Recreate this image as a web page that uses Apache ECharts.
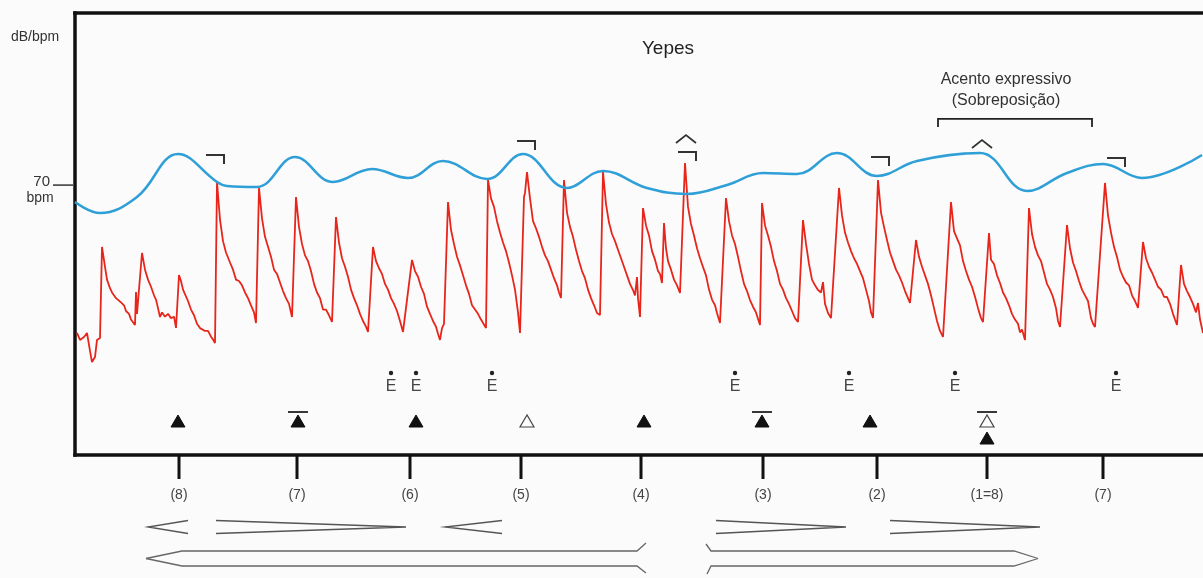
<!DOCTYPE html>
<html>
<head>
<meta charset="utf-8">
<script src="https://cdn.jsdelivr.net/npm/echarts@6/dist/echarts.min.js"></script>
<style>
  html, body { margin: 0; padding: 0; background: #fbfbfb; }
  #chart { width: 1203px; height: 578px; }
</style>
</head>
<body>
<div id="chart"></div>
<script>
// Time axis in tenths of a second, vertical axis shared by dB and bpm.
const X_MIN = 0, X_MAX = 112.8;
const Y_MIN = 51, Y_MAX = 82;

// Tempo curve (bpm)
const tempoBpm = [
  [0, 68.74], [2.5, 67.97], [6.2, 69.09], [10.3, 72.11], [14.2, 70.15], [15.2, 69.87],
  [18.2, 69.80], [22.0, 71.90], [25.8, 70.15], [29.7, 71.06], [33.3, 70.43], [36.8, 71.62],
  [41.2, 70.36], [44.8, 72.11], [49.2, 69.73], [52.8, 70.92], [57.2, 69.73], [61.2, 69.31],
  [65.2, 69.94], [68.8, 70.78], [72.2, 70.71], [76.2, 72.18], [80.2, 70.57], [84.2, 71.62],
  [90.5, 72.18], [95.2, 69.52], [99.2, 70.78], [102.8, 71.41], [106.7, 70.43], [112.7, 72.04]
];

// Intensity envelope (dB)
const intensityDb = [
  [0.2, 59.56], [0.5, 59.07], [0.9, 59.28], [1.2, 59.56], [1.5, 58.3], [1.7, 57.52], [2.0, 57.87],
  [2.2, 59.07], [2.5, 59.21],
  [2.7, 65.59], [3.0, 64.2], [3.2, 63.3], [3.5, 62.7], [3.7, 62.4], [3.9, 62.5], [4.1, 62.0], [4.3, 62.1],
  [4.6, 61.7], [4.9, 61.5], [5.1, 61.1], [5.4, 60.9], [5.6, 60.5], [5.8, 60.6], [6.0, 60.12],
  [6.1, 62.43], [6.2, 60.9], [6.3, 61.0], [6.4, 60.8],
  [6.7, 65.17], [7.0, 64.0], [7.3, 63.3], [7.6, 62.8], [7.9, 62.2], [8.1, 61.9], [8.3, 61.3], [8.5, 60.68],
  [8.7, 61.0], [9.0, 60.7], [9.3, 60.9], [9.6, 60.6], [9.9, 60.7], [10.1, 59.91],
  [10.4, 63.62], [10.6, 63.2], [10.8, 62.6], [11.0, 62.57], [11.3, 61.8], [11.6, 61.2], [11.9, 60.8],
  [12.2, 60.2], [12.5, 59.9], [12.7, 60.0], [13.0, 59.7], [13.3, 59.7], [13.6, 59.3], [13.8, 59.1], [14.0, 58.86],
  [14.2, 70.15], [14.5, 67.5], [14.8, 66.0], [15.1, 65.2], [15.5, 64.5], [15.8, 64.0], [16.1, 63.3],
  [16.4, 63.2], [16.7, 62.9], [17.0, 62.4], [17.3, 62.0], [17.6, 61.5], [17.9, 61.0], [18.1, 60.26],
  [18.4, 69.73], [18.7, 67.6], [19.0, 66.3], [19.3, 65.6], [19.6, 64.9], [19.9, 64.0], [20.2, 63.7],
  [20.5, 63.1], [20.8, 62.5], [21.1, 62.0], [21.4, 61.6], [21.7, 60.68],
  [22.1, 69.09], [22.4, 67.0], [22.7, 65.8], [23.0, 65.0], [23.3, 64.6], [23.6, 63.9], [23.9, 63.0],
  [24.2, 62.4], [24.5, 62.0], [24.8, 61.2], [25.1, 61.2], [25.4, 60.8], [25.7, 60.33],
  [26.1, 67.69], [26.4, 65.9], [26.7, 64.8], [27.0, 64.2], [27.3, 63.5], [27.6, 62.6], [27.9, 62.0],
  [28.2, 61.5], [28.5, 60.9], [28.8, 60.4], [29.1, 60.0], [29.3, 59.63],
  [29.8, 65.59], [30.1, 64.6], [30.4, 64.1], [30.7, 63.7], [31.0, 63.0], [31.3, 62.6], [31.6, 62.0],
  [31.9, 61.6], [32.2, 61.1], [32.5, 60.4], [32.8, 59.63],
  [33.7, 64.68], [34.0, 63.9], [34.3, 63.5], [34.6, 62.8], [34.9, 62.3], [35.2, 61.4], [35.5, 60.9],
  [35.8, 60.4], [36.1, 60.0], [36.3, 59.5], [36.5, 59.07], [36.7, 59.9], [36.9, 60.2],
  [37.3, 68.74], [37.6, 66.8], [37.9, 65.8], [38.2, 64.9], [38.5, 64.3], [38.8, 63.6], [39.1, 62.9],
  [39.4, 62.3], [39.7, 61.5], [40.0, 61.2], [40.3, 60.9], [40.6, 60.5], [40.8, 60.6], [41.1, 59.91],
  [41.3, 70.29], [41.6, 69.0], [41.9, 68.4], [42.2, 67.4], [42.5, 66.6], [42.8, 65.9], [43.1, 65.3],
  [43.4, 64.5], [43.7, 63.6], [44.0, 62.6], [44.3, 61.0], [44.5, 59.56],
  [44.9, 69.1], [45.0, 69.38], [45.2, 70.85], [45.5, 69.0], [45.8, 67.4], [46.1, 66.9], [46.4, 66.3],
  [46.7, 65.6], [47.0, 65.0], [47.3, 64.6], [47.6, 64.0], [47.9, 63.4], [48.2, 62.9], [48.4, 62.4], [48.6, 62.01],
  [48.9, 70.29], [49.2, 68.0], [49.5, 67.0], [49.8, 66.3], [50.1, 65.4], [50.4, 64.6], [50.7, 63.9],
  [51.0, 63.4], [51.3, 62.6], [51.6, 62.0], [51.9, 61.5], [52.2, 60.96], [52.5, 60.82],
  [52.8, 70.85], [53.1, 68.6], [53.4, 67.3], [53.7, 66.5], [54.0, 66.0], [54.3, 65.4], [54.6, 64.8],
  [54.9, 64.2], [55.2, 63.6], [55.5, 63.0], [55.8, 62.57], [56.0, 62.2], [56.2, 63.48], [56.3, 62.0], [56.5, 60.68],
  [56.8, 68.32], [57.1, 67.1], [57.4, 66.4], [57.7, 65.3], [58.0, 64.7], [58.3, 63.9], [58.5, 63.7], [58.7, 63.06],
  [58.9, 67.27], [59.1, 65.5], [59.3, 64.6], [59.6, 64.0], [59.9, 63.3], [60.2, 62.9], [60.5, 62.36],
  [61.0, 71.48], [61.3, 68.4], [61.6, 67.2], [61.9, 66.4], [62.2, 65.5], [62.5, 64.8], [62.8, 64.19],
  [63.1, 63.6], [63.4, 62.6], [63.7, 61.9], [64.0, 61.5], [64.2, 60.96], [64.5, 60.26],
  [65.1, 69.02], [65.4, 67.4], [65.7, 66.4], [66.0, 65.8], [66.3, 64.9], [66.6, 63.9], [66.9, 63.0],
  [67.2, 62.5], [67.5, 61.87], [67.8, 61.4], [68.1, 61.0], [68.3, 60.9], [68.5, 60.12],
  [68.7, 68.67], [69.0, 67.1], [69.3, 66.4], [69.6, 65.6], [69.9, 64.6], [70.2, 63.9], [70.5, 63.0],
  [70.8, 62.6], [71.1, 62.0], [71.4, 61.6], [71.7, 61.1], [72.0, 60.6], [72.3, 60.33],
  [72.8, 67.48], [73.1, 65.8], [73.4, 64.4], [73.7, 63.3], [74.0, 62.9], [74.3, 62.57], [74.6, 62.4],
  [74.8, 63.13], [75.0, 61.6], [75.3, 60.96], [75.6, 60.6], [75.8, 60.47],
  [76.4, 69.73], [76.7, 67.8], [77.0, 66.6], [77.3, 65.9], [77.6, 65.3], [77.9, 64.8], [78.2, 64.4],
  [78.5, 63.9], [78.8, 63.4], [79.1, 62.6], [79.4, 61.8], [79.6, 61.0], [79.8, 60.61],
  [80.3, 70.29], [80.6, 68.0], [80.9, 67.0], [81.2, 66.08], [81.5, 65.2], [81.8, 64.6], [82.1, 64.0],
  [82.4, 63.6], [82.7, 63.1], [83.0, 62.5], [83.3, 62.0], [83.5, 61.66],
  [84.1, 66.08], [84.4, 64.9], [84.7, 64.2], [85.0, 63.6], [85.3, 63.0], [85.6, 62.2], [85.9, 61.3],
  [86.2, 60.4], [86.5, 59.7], [86.8, 59.28],
  [87.6, 68.74], [87.9, 66.7], [88.2, 66.2], [88.5, 65.7], [88.8, 64.6], [89.1, 63.9], [89.4, 63.3],
  [89.7, 62.8], [90.0, 62.1], [90.3, 61.3], [90.6, 60.6], [90.8, 60.33],
  [91.4, 66.57], [91.6, 64.7], [91.9, 64.4], [92.2, 63.6], [92.5, 63.06], [92.8, 62.4], [93.1, 62.0],
  [93.4, 61.5], [93.7, 60.9], [94.0, 60.5], [94.3, 60.2], [94.5, 59.6], [94.7, 59.8], [95.0, 59.07],
  [95.4, 68.32], [95.7, 66.5], [96.0, 65.6], [96.3, 65.0], [96.6, 64.6], [96.9, 63.8], [97.2, 63.0],
  [97.5, 62.6], [97.8, 62.08], [98.1, 61.3], [98.3, 60.4], [98.5, 59.98],
  [99.2, 67.13], [99.5, 65.5], [99.8, 64.5], [100.1, 63.9], [100.4, 63.2], [100.7, 62.6], [101.0, 62.2],
  [101.3, 61.8], [101.6, 60.6], [101.8, 60.2], [102.0, 59.98],
  [103.0, 70.08], [103.3, 67.8], [103.6, 66.6], [103.9, 65.6], [104.2, 64.89], [104.5, 64.0], [104.8, 63.5],
  [105.1, 63.1], [105.4, 62.9], [105.7, 62.2], [106.0, 61.8], [106.3, 61.31],
  [106.8, 65.94], [107.1, 64.8], [107.4, 64.2], [107.7, 63.8], [108.0, 63.3], [108.3, 62.8], [108.6, 62.6],
  [108.9, 62.1], [109.2, 62.08], [109.5, 61.6], [109.8, 60.9], [110.0, 60.5], [110.2, 60.12],
  [110.6, 64.33], [110.9, 63.0], [111.2, 62.5], [111.5, 62.08], [111.8, 61.6], [112.1, 61.0],
  [112.3, 61.66], [112.5, 60.5], [112.8, 59.56]
];

// Metric beats under the frame
const beatTimes = [10.4, 22.2, 33.5, 44.6, 56.6, 68.8, 80.2, 91.2, 102.8];
const beatLabels = ['(8)', '(7)', '(6)', '(5)', '(4)', '(3)', '(2)', '(1=8)', '(7)'];

// Stress signs: f = filled, o = open, bf = barred filled, bof = barred open over filled
const stressTimes = [10.3, 22.3, 34.1, 45.2, 56.9, 68.7, 79.5, 91.2];
const stressKinds = ['f', 'bf', 'f', 'o', 'f', 'bf', 'f', 'bof'];

// Dotted-E emphasis signs
const emphasisTimes = [31.6, 34.1, 41.7, 66.0, 77.4, 88.0, 104.1];

// Phrase-end hooks [time, level] and accent carets [time, level]
const phraseHooks = [[14.9, 72.04], [46.0, 73.02], [62.1, 72.25], [81.4, 71.90], [105.0, 71.83]];
const accentCarets = [[61.1, 73.44], [90.7, 73.09]];

// Expressive-accent span [start, end, level]
const overlapSpan = [[86.3, 101.7, 74.57]];
const overlapText = ['Acento expressivo', '(Sobreposição)'];

// Dynamics hairpins [start, end]
const hairpinSpans = [[7.3, 11.3], [14.1, 33.1], [37.0, 42.7], [64.1, 77.1], [81.5, 96.5]];
const hairpinKinds = ['cresc', 'dim', 'cresc', 'dim', 'dim'];

// Long phrase arrows [start, end]
const phraseArrows = [[7.1, 56.2], [63.6, 96.3]];
const phraseArrowDirs = ['left', 'right'];

const FONT = '"Liberation Sans", Arial, sans-serif';
const INK = '#222';
const FRAME = { color: '#111', width: 3.5, cap: 'square' };

const chart = echarts.init(document.getElementById('chart'), null, { renderer: 'canvas' });

function line(points, stroke, width) {
  return { type: 'polyline', shape: { points }, style: { stroke, lineWidth: width, fill: null } };
}
function label(text, x, y, size, fill, align) {
  return {
    type: 'text',
    style: { text, x, y, align: align || 'center', verticalAlign: 'middle',
             fontSize: size, fontFamily: FONT, fill: fill || '#333' }
  };
}

function renderAxisMark(params, api) {
  const p = api.coord([api.value(0), api.value(1)]);
  return { type: 'group', children: [
    line([[p[0] - 22, p[1] + 1], [p[0] - 2, p[1] + 1]], '#333', 1.5),
    label('70', p[0] - 25, p[1] - 2, 15, '#333', 'right'),
    label('bpm', p[0] - 35, p[1] + 14, 14, '#333')
  ] };
}

function renderBeat(params, api) {
  const p = api.coord([api.value(0), Y_MIN]);
  const i = params.dataIndex;
  return { type: 'group', children: [
    line([[p[0], p[1] + 1], [p[0], p[1] + 24]], '#111', 3),
    label(beatLabels[i], p[0], p[1] + 40, 14, '#444')
  ] };
}

function renderStress(params, api) {
  const p = api.coord([api.value(0), Y_MIN]);
  const i = params.dataIndex;
  const x = p[0], top = p[1] - 40, h = 12, w = 7;
  const tri = (y0, filled) => ({
    type: 'polygon',
    shape: { points: [[x, y0], [x - w, y0 + h], [x + w, y0 + h]] },
    style: filled ? { fill: '#111', stroke: '#111', lineWidth: 1 } : { fill: null, stroke: '#444', lineWidth: 1.2 }
  });
  const kind = stressKinds[i];
  const children = [];
  if (kind === 'bf' || kind === 'bof') children.push(line([[x - 10, top - 3], [x + 10, top - 3]], '#222', 1.8));
  if (kind === 'f' || kind === 'bf') children.push(tri(top, true));
  if (kind === 'o') children.push(tri(top, false));
  if (kind === 'bof') { children.push(tri(top, false)); children.push(tri(top + 17, true)); }
  return { type: 'group', children };
}

function renderEmphasis(params, api) {
  const p = api.coord([api.value(0), Y_MIN]);
  return { type: 'group', children: [
    { type: 'circle', shape: { cx: p[0], cy: p[1] - 82, r: 2.2 }, style: { fill: '#222' } },
    label('E', p[0], p[1] - 68, 16, '#444')
  ] };
}

function renderHook(params, api) {
  const p = api.coord([api.value(0), api.value(1)]);
  return line([[p[0] - 18, p[1]], [p[0], p[1]], [p[0], p[1] + 9]], '#333', 2);
}

function renderCaret(params, api) {
  const p = api.coord([api.value(0), api.value(1)]);
  return line([[p[0] - 10, p[1] + 8], [p[0], p[1]], [p[0] + 10, p[1] + 8]], '#333', 1.8);
}

function renderSpan(params, api) {
  const a = api.coord([api.value(0), api.value(2)]);
  const b = api.coord([api.value(1), api.value(2)]);
  const y = a[1], mid = (a[0] + b[0]) / 2 - 9;
  return { type: 'group', children: [
    line([[a[0], y + 8], [a[0], y], [b[0], y], [b[0], y + 8]], INK, 1.8),
    label(overlapText[0], mid, y - 39, 16, '#333'),
    label(overlapText[1], mid, y - 18, 16, '#333')
  ] };
}

function renderHairpin(params, api) {
  const i = params.dataIndex;
  const a = api.coord([api.value(0), Y_MIN]);
  const b = api.coord([api.value(1), Y_MIN]);
  const y = a[1] + 72, h = 6.5;
  const cresc = hairpinKinds[i] === 'cresc';
  const tip = cresc ? a[0] : b[0], mouth = cresc ? b[0] : a[0];
  return line([[mouth, y - h], [tip, y], [mouth, y + h]], '#555', 1.3);
}

function renderArrow(params, api) {
  const i = params.dataIndex;
  const a = api.coord([api.value(0), Y_MIN]);
  const b = api.coord([api.value(1), Y_MIN]);
  const y = a[1] + 103.5, h = 7.5;
  if (phraseArrowDirs[i] === 'left') {
    const tip = a[0], end = b[0], head = 36;
    return { type: 'group', children: [
      line([[tip, y], [tip + head, y - h], [end, y - h], [end + 9, y - h - 8]], '#666', 1.3),
      line([[tip, y], [tip + head, y + h], [end, y + h], [end + 9, y + h + 7]], '#666', 1.3)
    ] };
  }
  const start = a[0], tip = b[0], head = 24;
  return { type: 'group', children: [
    line([[start - 5, y - h - 7], [start, y - h], [tip - head, y - h], [tip, y]], '#666', 1.3),
    line([[start - 4, y + h + 8], [start, y + h], [tip - head, y + h], [tip, y]], '#666', 1.3)
  ] };
}

function custom(data, renderItem) {
  return { type: 'custom', data, renderItem, silent: true, clip: false, z: 5, animation: false };
}

const bareAxis = {
  type: 'value', min: X_MIN, max: X_MAX,
  axisLine: { show: true, lineStyle: FRAME },
  axisTick: { show: false }, axisLabel: { show: false }, splitLine: { show: false }
};

chart.setOption({
  backgroundColor: '#fbfbfb',
  animation: false,
  title: {
    text: 'Yepes', left: 663, top: 34, textAlign: 'center',
    textStyle: { fontFamily: FONT, fontSize: 19, fontWeight: 'normal', color: '#222' }
  },
  graphic: [
    { type: 'text', left: 11, top: 30, style: { text: 'dB/bpm', fontSize: 14, fontFamily: FONT, fill: '#333' } }
  ],
  grid: { left: 75, top: 13, right: 0, bottom: 123 },
  xAxis: [
    Object.assign({ position: 'bottom' }, bareAxis),
    Object.assign({ position: 'top' }, bareAxis)
  ],
  yAxis: {
    type: 'value', min: Y_MIN, max: Y_MAX, position: 'left',
    axisLine: { show: true, lineStyle: FRAME },
    axisTick: { show: false }, axisLabel: { show: false }, splitLine: { show: false }
  },
  series: [
    {
      name: 'bpm', type: 'line', data: tempoBpm, smooth: 0.4, symbol: 'none',
      lineStyle: { color: '#2f9fd8', width: 2.5 }, z: 3
    },
    {
      name: 'dB', type: 'line', data: intensityDb, smooth: false, symbol: 'none',
      lineStyle: { color: '#e8251b', width: 1.8 }, z: 2
    },
    custom([[X_MIN, 70]], renderAxisMark),
    custom(beatTimes.map(t => [t, Y_MIN]), renderBeat),
    custom(stressTimes.map(t => [t, Y_MIN]), renderStress),
    custom(emphasisTimes.map(t => [t, Y_MIN]), renderEmphasis),
    custom(phraseHooks, renderHook),
    custom(accentCarets, renderCaret),
    custom(overlapSpan, renderSpan),
    custom(hairpinSpans, renderHairpin),
    custom(phraseArrows, renderArrow)
  ]
});
</script>
</body>
</html>
